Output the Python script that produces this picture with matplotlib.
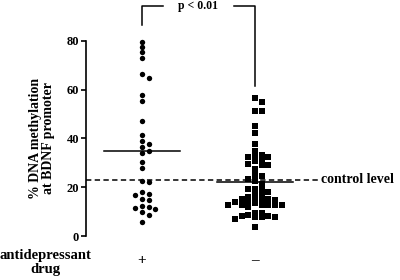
import matplotlib
matplotlib.use("Agg")
import matplotlib.pyplot as plt
import numpy as np

# values (% DNA methylation at BDNF promoter)
with_drug = [79.7, 77.3, 75.4, 73.1, 66.5, 64.8, 57.8, 55.2, 47.1, 41.5,
             38.9, 37.8, 36.6, 35.0, 34.1, 30.3, 28.0, 22.5, 22.3, 18.0,
             17.2, 16.8, 15.2, 14.6, 12.3, 11.9, 11.6, 11.1, 9.8, 8.6, 5.7]
without_drug = [56.4, 54.8, 51.4, 51.1, 45.0, 42.1, 37.7, 34.8, 33.3, 32.5,
                32.3, 32.3, 30.9, 30.6, 29.5, 29.2, 29.0, 27.3, 24.9, 24.6,
                23.2, 22.7, 21.3, 19.4, 19.4, 19.4, 18.0, 17.5, 17.5, 16.1,
                15.3, 15.1, 14.2, 13.9, 14.8, 15.3, 15.1,
                12.8, 12.8, 12.6, 12.0, 12.6, 12.8, 12.6, 13.4,
                9.6, 8.2, 7.9, 7.7, 7.1, 7.7, 8.2, 8.5, 9.6, 3.6]
control_level = 23.0
group_labels = ["+", "\u2013"]
p_text = "p < 0.01"

plt.rcParams["font.family"] = ["Liberation Serif", "DejaVu Serif"]
plt.rcParams["font.weight"] = "bold"

fig = plt.figure(figsize=(4, 2.8), dpi=100)
ax = fig.add_axes([0.215, 0.157, 0.58, 0.697])
ax.set_xlim(0.504, 2.558)
ax.set_ylim(0, 80)

# pixel scales used to lay out the swarm
px_y = 0.697 * 280 / 80
px_x = 0.58 * 400 / (2.558 - 0.504)


def swarm(vals, step_px=6.7, min_dy=4.3):
    placed = {}
    offs = np.zeros(len(vals))
    order = np.argsort(vals)[::-1]
    cand = [0]
    for j in range(1, 12):
        cand += [j, -j]
    for i in order:
        y = vals[i] * px_y
        for k in cand:
            if all(abs(y - yy) >= min_dy for yy in placed.get(k, [])):
                break
        placed.setdefault(k, []).append(y)
        offs[i] = k * step_px / px_x
    return offs


v1 = np.array(with_drug)
v2 = np.array(without_drug)
ax.scatter(1 + swarm(v1), v1, s=15, marker="o", color="black", lw=0,
           clip_on=False, zorder=3)
ax.scatter(2 + swarm(v2), v2, s=14, marker="s", color="black", lw=0,
           clip_on=False, zorder=3)

# mean lines
ax.plot([1 - 0.34, 1 + 0.34], [v1.mean()] * 2, color="black", lw=1.1, zorder=2)
ax.plot([2 - 0.34, 2 + 0.34], [v2.mean()] * 2, color="black", lw=1.1, zorder=2)

# control level
ax.axhline(control_level, color="black", lw=1.1, ls=(0, (3.5, 2.2)), zorder=1)
ax.text(1.012, control_level, "control level", transform=ax.get_yaxis_transform(),
        ha="left", va="center", fontsize=10, fontweight="bold", clip_on=False)

# significance bracket
ax.plot([1, 1, 1.19], [86.5, 94.2, 94.2], color="black", lw=1.1, clip_on=False)
ax.plot([1.81, 2, 2], [94.2, 94.2, 61.5], color="black", lw=1.1, clip_on=False)
ax.text(1.5, 94.2, p_text, ha="center", va="center", fontsize=8.5,
        fontweight="bold", clip_on=False)

for s in ["top", "right", "bottom"]:
    ax.spines[s].set_visible(False)
ax.spines["left"].set_linewidth(1.2)
ax.set_yticks([0, 20, 40, 60, 80])
ax.tick_params(axis="y", length=3.6, width=1.2, labelsize=9, pad=1.5)
ax.set_xticks([1, 2])
ax.set_xticklabels(group_labels, fontsize=11)
ax.tick_params(axis="x", length=0, pad=13)
for lab in ax.get_yticklabels():
    lab.set_fontweight("bold")

ax.set_ylabel("% DNA methylation\nat BDNF promoter", fontsize=10,
              fontweight="bold", labelpad=8, linespacing=1.0)
fig.text(0.113, 0.062, "antidepressant\ndrug", ha="center", va="center",
         fontsize=10.5, fontweight="bold", linespacing=1.15)

fig.savefig("out.png", dpi=100)
